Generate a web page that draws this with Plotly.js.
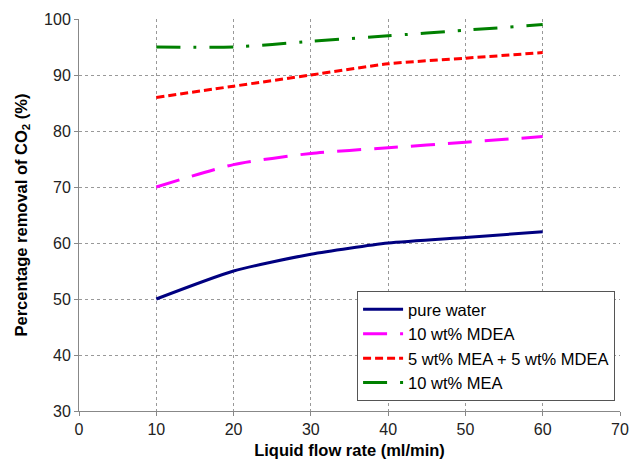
<!DOCTYPE html>
<html><head><meta charset="utf-8">
<script src="https://cdn.plot.ly/plotly-3.0.1.min.js"></script>
<style>body{margin:0;background:#fff}#c{width:630px;height:467px}</style>
</head><body><div id="c"></div>
<script>
const flowRate = [10, 20, 30, 40, 50, 60];
const pureWater = [50, 55, 58, 60, 61, 62];
const mdea10 = [70, 74, 76, 77, 78, 79];
const meaMdea = [86, 88, 90, 92, 93, 94];
const mea10 = [95, 95, 96, 97, 98, 99];
const seriesNames = ['pure water', '10 wt% MDEA', '5 wt% MEA + 5 wt% MDEA', '10 wt% MEA'];
const xTicks = [0, 10, 20, 30, 40, 50, 60, 70];
const yTicks = [30, 40, 50, 60, 70, 80, 90, 100];

const mk = (y, name, color, dash) => ({
  x: flowRate, y: y, name: name, type: 'scatter', mode: 'lines',
  line: {color: color, width: 3, dash: dash, shape: 'spline', smoothing: 0.6}
});
const data = [
  mk(pureWater, seriesNames[0], '#000080', 'solid'),
  mk(mdea10, seriesNames[1], '#ff00ff', '24px,13px'),
  mk(meaMdea, seriesNames[2], '#ff0000', '8px,4px'),
  mk(mea10, seriesNames[3], '#008000', '24px,13px,3px,13px')
];
const layout = {
  width: 630, height: 467,
  margin: {l: 79, r: 10, t: 19, b: 56},
  paper_bgcolor: '#fff', plot_bgcolor: '#fff',
  font: {family: 'Liberation Sans, Arial, sans-serif', size: 16, color: '#222'},
  showlegend: true,
  legend: {x: 0.514, y: 0.306, xanchor: 'left', yanchor: 'top', bordercolor: '#555', borderwidth: 1,
    bgcolor: '#fff', font: {size: 16.5, color: '#000'}, tracegroupgap: 0, itemwidth: 40},
  xaxis: {range: [0, 70], tickvals: xTicks, ticktext: xTicks.map(String), showgrid: true,
    gridcolor: '#999', griddash: 'dot', gridwidth: 1, zeroline: false, showline: true,
    linecolor: '#888', linewidth: 1, ticks: 'outside', ticklen: 4, tickcolor: '#888',
    title: {text: '<b>Liquid flow rate (ml/min)</b>', font: {size: 16.5, color: '#000'}, standoff: 7}},
  yaxis: {range: [30, 100], tickvals: yTicks, ticktext: yTicks.map(String), showgrid: true,
    gridcolor: '#999', griddash: 'dot', gridwidth: 1, zeroline: false, showline: true,
    linecolor: '#888', linewidth: 1, ticks: 'outside', ticklen: 4, tickcolor: '#888',
    title: {text: '<b>Percentage removal of CO<sub>2</sub> (%)</b>', font: {size: 16.5, color: '#000'}, standoff: 12}}
};
Plotly.newPlot('c', data, layout, {displayModeBar: false, staticPlot: true});
</script></body></html>
